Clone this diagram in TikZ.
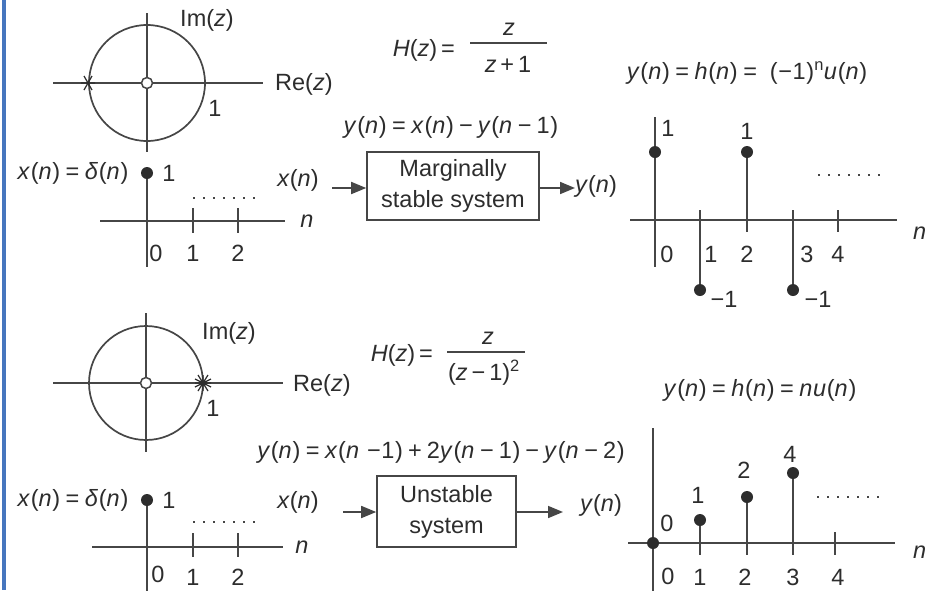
\documentclass[tikz,border=0pt]{standalone}
\usepackage{fontspec}
\setmainfont{Liberation Sans}
\usetikzlibrary{arrows.meta}
\definecolor{ink}{RGB}{45,45,45}
\definecolor{lineink}{RGB}{70,70,70}
\definecolor{edgeblue}{RGB}{70,118,190}
\newcommand{\mi}[1]{\textit{#1}}
\newcommand{\eqs}{\hspace{5.5pt}=\hspace{5.5pt}}
\newcommand{\mns}{\hspace{5pt}−\hspace{5pt}}
\begin{document}
\begin{tikzpicture}[x=1pt,y=-1pt,
  every node/.style={text=ink, inner sep=0pt},
  txt/.style={font=\fontsize{23.5}{28}\selectfont},
  eqn/.style={font=\fontsize{23.5}{28}\selectfont\addfontfeature{LetterSpace=3}},
  ax/.style={draw=lineink, line width=1.7pt},
  dotted line/.style={draw=lineink, line width=1.1pt, dash pattern=on 2pt off 8pt},
  sdot/.style={circle, fill=ink, minimum size=12pt},
  zero/.style={circle, draw=lineink, fill=white, line width=1.5pt, minimum size=11pt},
  blk/.style={draw=lineink, line width=1.6pt, align=center, font=\fontsize{23.5}{31}\selectfont},
  arr/.style={draw=lineink, line width=1.7pt, -{Triangle[length=15pt,width=12pt]}},
  polemark/.style={draw=ink, line width=1.2pt}
]
\useasboundingbox (0,0) rectangle (927,590);
\fill[white] (0,0) rectangle (927,590);
\fill[edgeblue] (2,0) rectangle (5.5,590);

% ================= TOP HALF =================
% pole-zero plot
\draw[ax] (147,83) circle (58);
\draw[ax] (53,83) -- (263,83);
\draw[ax] (147,13) -- (147,152);
\node[zero] (zeroA) at (147,83) {};
\coordinate (poleA) at (88,83);
\draw[polemark] (poleA) +(-4,-7) -- +(4,7) (poleA) +(-4,7) -- +(4,-7) (poleA) +(-7,0) -- +(7,0);
\node[txt] (imA) at (207,20) {Im(\mi{z})};
\node[txt, anchor=west] (reA) at (275,84) {Re(\mi{z})};
\node[txt] (oneA) at (215,108) {1};

% H(z)
\node[txt, anchor=east] (HA) at (459,50) {\mi{H}(\mi{z})\,=\,};
\node[txt] (numA) at (509,29) {\mi{z}};
\draw[lineink, line width=1.4pt] (470,43) -- (547,43);
\node[txt] (denA) at (508,64) {\mi{z}\,+\,1};

% difference equation
\node[eqn] (deA) at (451,127) {\mi{y}(\mi{n})\eqs\mi{x}(\mi{n})\mns\mi{y}(\mi{n}\mns1)};

% block
\node[blk, minimum width=172pt, minimum height=68pt] (sysA) at (453,186) {Marginally\\stable system};
\node[txt] (xinA) at (298,180) {\mi{x}(\mi{n})};
\coordinate (inA) at (332,188);
\draw[arr] (inA) -- (sysA.west |- inA);
\node[txt, anchor=west] (youtA) at (575,186) {\mi{y}(\mi{n})};
\draw[arr] (sysA.east |- inA) -- (youtA.west |- inA);

% input stem plot
\node[eqn] (xlabA) at (73,173) {\mi{x}(\mi{n})\eqs\mi{δ}(\mi{n})};
\draw[ax] (100,221) -- (285,221);
\draw[ax] (147,173) -- (147,267);
\node[sdot] (dA0) at (147,173) {};
\node[txt] (dA0l) at (169,173) {1};
\draw[ax] (193,208) -- (193,233);
\draw[ax] (238,208) -- (238,233);
\draw[dotted line] (193,198) -- (255,198);
\node[txt] (nA) at (307,221) {\mi{n}};
\node[txt] (tA0) at (156,253) {0};
\node[txt] (tA1) at (193,253) {1};
\node[txt] (tA2) at (238,253) {2};

% output stem plot
\node[eqn] (houtA) at (747,73) {\mi{y}(\mi{n})\eqs\mi{h}(\mi{n})\eqs\ (−1)\textsuperscript{n}\mi{u}(\mi{n})};
\draw[ax] (630,220) -- (897,220);
\draw[ax] (655,117) -- (655,267);
\node[sdot] (hA0) at (655,152) {};
\draw[ax] (700,210) -- (700,290);
\node[sdot] (hA1) at (700,290) {};
\draw[ax] (747,152) -- (747,232);
\node[sdot] (hA2) at (747,152) {};
\draw[ax] (793,210) -- (793,290);
\node[sdot] (hA3) at (793,290) {};
\draw[ax] (838,210) -- (838,232);
\draw[dotted line] (818,175) -- (882,175);
\node[txt] (vA0) at (668,128) {1};
\node[txt] (vA2) at (747,131) {1};
\node[txt] (vA1) at (724,299) {−1};
\node[txt] (vA3) at (818,299) {−1};
\node[txt] (uA0) at (667,254) {0};
\node[txt] (uA1) at (711,254) {1};
\node[txt] (uA2) at (747,254) {2};
\node[txt] (uA3) at (807,254) {3};
\node[txt] (uA4) at (838,254) {4};
\node[txt, anchor=west] (nA2) at (913,233) {\mi{n}};

% ================= BOTTOM HALF =================
\draw[ax] (146,383) circle (57);
\draw[ax] (53,383) -- (283,383);
\draw[ax] (146,313) -- (146,452);
\node[zero] (zeroB) at (146,383) {};
\coordinate (poleB) at (203,383);
\draw[polemark] (poleB) +(-5,-8) -- +(5,8) (poleB) +(-5,8) -- +(5,-8) (poleB) +(-8,0) -- +(8,0)
  (poleB) +(-8,-4) -- +(8,4) (poleB) +(-8,4) -- +(8,-4) (poleB) +(0,-8) -- +(0,8);
\node[txt] (imB) at (229,333) {Im(\mi{z})};
\node[txt, anchor=west] (reB) at (293,385) {Re(\mi{z})};
\node[txt] (oneB) at (213,408) {1};

\node[txt, anchor=east] (HB) at (437,355) {\mi{H}(\mi{z})\,=\,};
\node[txt] (numB) at (488,338) {\mi{z}};
\draw[lineink, line width=1.4pt] (447,352) -- (525,352);
\node[txt] (denB) at (484,373) {(\mi{z}\,−\,1)\textsuperscript{2}};

\node[eqn] (deB) at (441,452) {\mi{y}(\mi{n})\eqs\mi{x}(\mi{n} −1)\hspace{5pt}+\hspace{5pt}2\mi{y}(\mi{n}\mns1)\mns\mi{y}(\mi{n}\mns2)};

\node[blk, minimum width=139pt, minimum height=71pt] (sysB) at (446.5,511.5) {Unstable\\system};
\node[txt] (xinB) at (298,502) {\mi{x}(\mi{n})};
\coordinate (inB) at (343,512);
\draw[arr] (inB) -- (sysB.west |- inB);
\node[txt] (youtB) at (601,505) {\mi{y}(\mi{n})};
\coordinate (outB) at (563,512);
\draw[arr] (sysB.east |- inB) -- (outB);

% input stem plot
\node[eqn] (xlabB) at (73,500) {\mi{x}(\mi{n})\eqs\mi{δ}(\mi{n})};
\draw[ax] (92,547) -- (283,547);
\draw[ax] (147,500) -- (147,592);
\node[sdot] (dB0) at (147,500) {};
\node[txt] (dB0l) at (169,500) {1};
\draw[ax] (193,533) -- (193,557);
\draw[ax] (238,533) -- (238,557);
\draw[dotted line] (193,522) -- (255,522);
\node[txt] (nB) at (302,547) {\mi{n}};
\node[txt] (tB0) at (158,574) {0};
\node[txt] (tB1) at (193,577) {1};
\node[txt] (tB2) at (238,577) {2};

% output stem plot
\node[eqn] (houtB) at (760,390) {\mi{y}(\mi{n})\eqs\mi{h}(\mi{n})\eqs\mi{nu}(\mi{n})};
\draw[ax] (628,543) -- (895,543);
\draw[ax] (653,428) -- (653,592);
\node[sdot] (hB0) at (653,543) {};
\draw[ax] (700,520) -- (700,555);
\node[sdot] (hB1) at (700,520) {};
\draw[ax] (747,497) -- (747,555);
\node[sdot] (hB2) at (747,497) {};
\draw[ax] (793,473) -- (793,555);
\node[sdot] (hB3) at (793,473) {};
\draw[ax] (835,532) -- (835,555);
\draw[dotted line] (817,497) -- (881,497);
\node[txt] (vB0) at (667,523) {0};
\node[txt] (vB1) at (698,495) {1};
\node[txt] (vB2) at (744,470) {2};
\node[txt] (vB3) at (790,454) {4};
\node[txt] (uB0) at (668,576) {0};
\node[txt] (uB1) at (700,577) {1};
\node[txt] (uB2) at (745,577) {2};
\node[txt] (uB3) at (793,577) {3};
\node[txt] (uB4) at (838,577) {4};
\node[txt, anchor=west] (nB2) at (913,552) {\mi{n}};
\end{tikzpicture}
\end{document}
